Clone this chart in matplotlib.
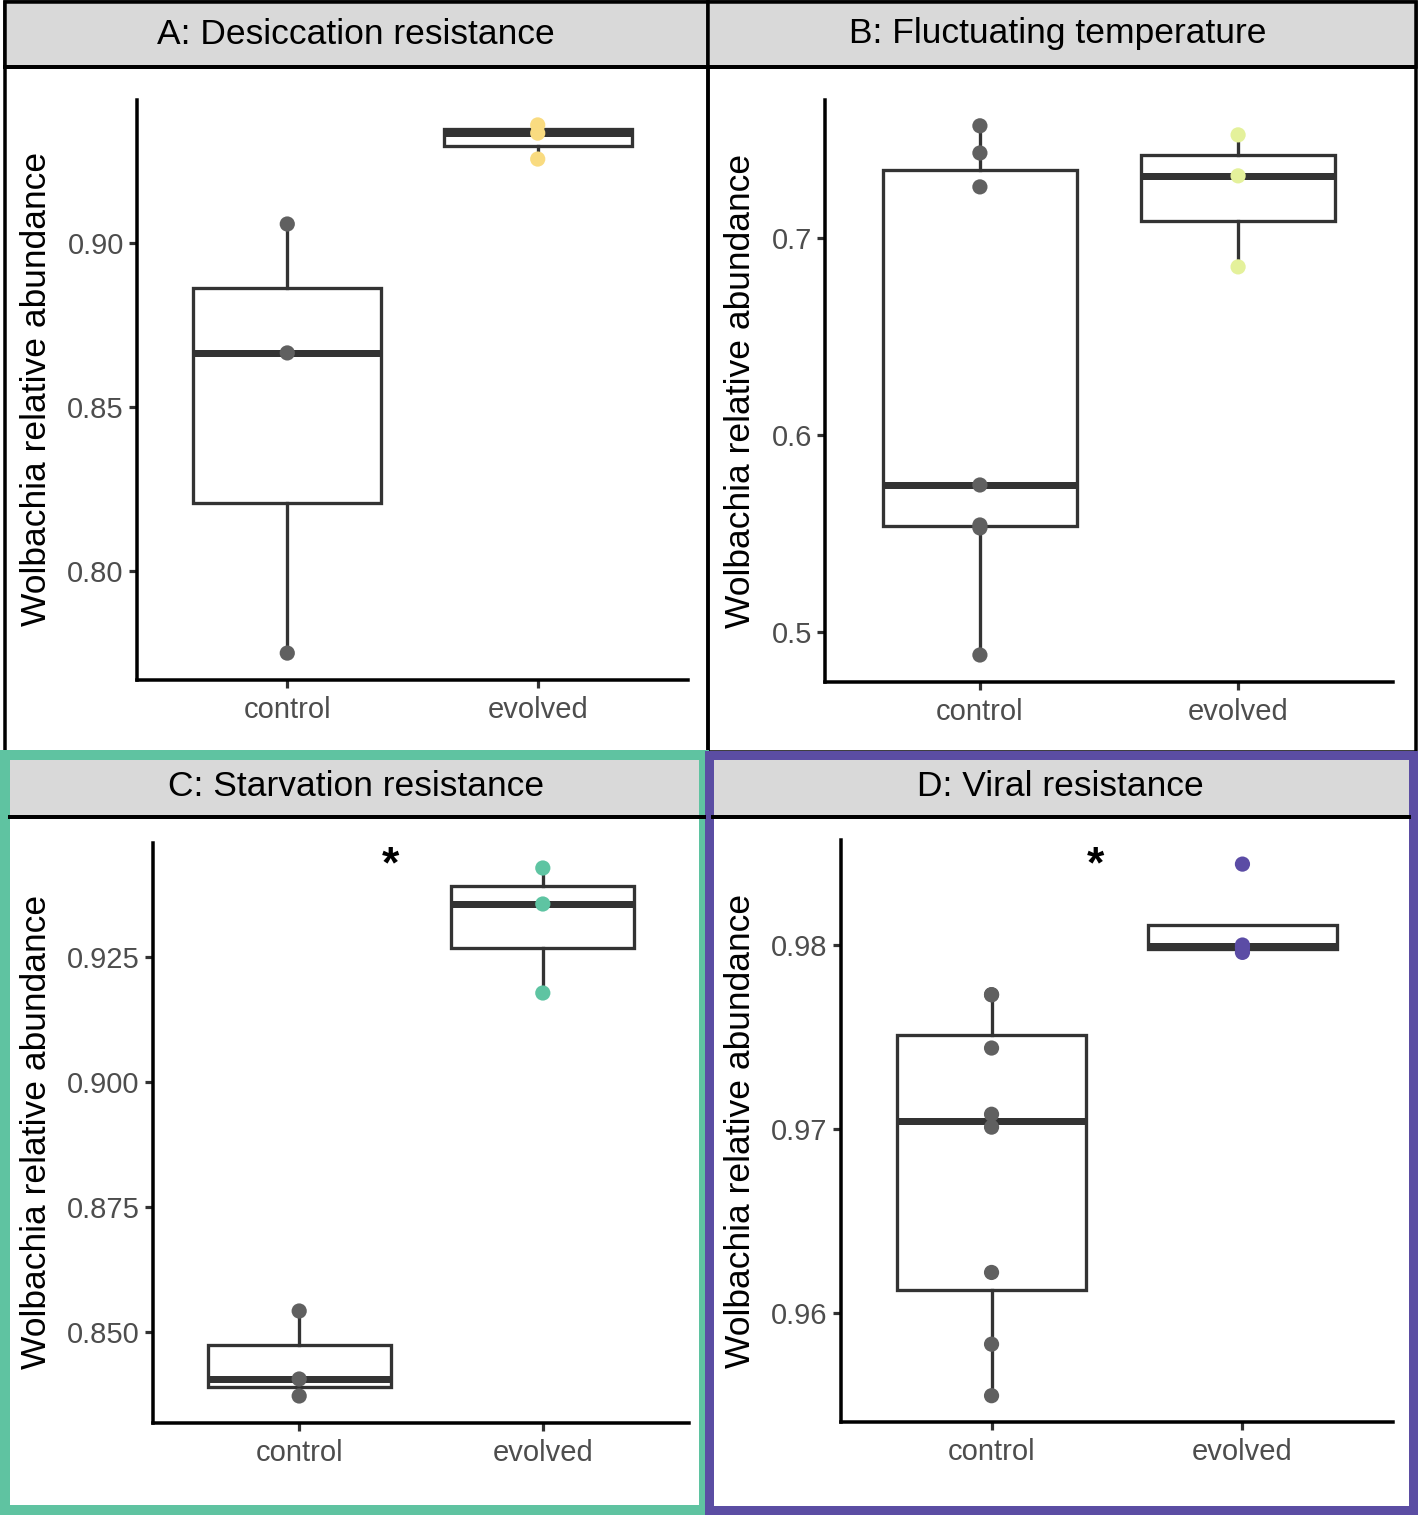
import matplotlib
matplotlib.use("Agg")
import matplotlib.pyplot as plt
from matplotlib.patches import Rectangle
from matplotlib.ticker import FormatStrFormatter

plt.rcParams['font.family'] = ['Liberation Sans', 'DejaVu Sans']

# ---------------- data ----------------
categories = ["control", "evolved"]

titles = ["A: Desiccation resistance", "B: Fluctuating temperature",
          "C: Starvation resistance", "D: Viral resistance"]

A_control = [0.9058, 0.8665, 0.7750]
A_evolved = [0.9360, 0.9335, 0.9256]

B_control = [0.7569, 0.7431, 0.7259, 0.5746, 0.5543, 0.5528, 0.4883]
B_evolved = [0.7523, 0.7315, 0.6853]

C_control = [0.8542, 0.8406, 0.8372]
C_evolved = [0.9428, 0.9356, 0.9178]

D_control = [0.9773, 0.9773, 0.9744, 0.9708, 0.9701, 0.9622, 0.9583, 0.9555]
D_evolved = [0.9844, 0.9800, 0.97985, 0.9796]

A_ticks = [0.80, 0.85, 0.90]
B_ticks = [0.5, 0.6, 0.7]
C_ticks = [0.850, 0.875, 0.900, 0.925]
D_ticks = [0.96, 0.97, 0.98]

ylabel = "Wolbachia relative abundance"
signif_label = "*"

# ---------------- style ----------------
W, H = 1418, 1515
control_color = "#606060"
evolved_colors = ["#F9DB80", "#E4F19B", "#5EC4A2", "#5B4CA5"]
border_C = "#5FC3A1"
border_D = "#5B4DA3"
strip_gray = "#D9D9D9"
box_col = "#333333"
PX = 0.72  # points per pixel

fig = plt.figure(figsize=(W / 100, H / 100), dpi=100)

bg = fig.add_axes([0, 0, 1, 1], zorder=0)
bg.set_xlim(0, W)
bg.set_ylim(H, 0)
bg.axis("off")

# panel frames A/B
bg.add_patch(Rectangle((5, 1.5), 703, 750, fc="none", ec="black", lw=3.5 * PX))
bg.add_patch(Rectangle((708, 1.5), 707.5, 750, fc="none", ec="black", lw=3.5 * PX))
# strips A/B
bg.add_patch(Rectangle((5, 1.5), 703, 65, fc=strip_gray, ec="black", lw=3.5 * PX))
bg.add_patch(Rectangle((708, 1.5), 707.5, 65, fc=strip_gray, ec="black", lw=3.5 * PX))
bg.plot([5, 1415], [66.5, 66.5], color="black", lw=4 * PX)
# strips C/D
bg.add_patch(Rectangle((10, 760), 694, 57, fc=strip_gray, ec="none"))
bg.add_patch(Rectangle((713, 760), 696, 57, fc=strip_gray, ec="none"))
bg.plot([10, 704], [817, 817], color="black", lw=4 * PX)
bg.plot([713, 1409], [817, 817], color="black", lw=4 * PX)
# coloured borders C/D
bg.add_patch(Rectangle((5, 755), 699, 755, fc="none", ec=border_C, lw=10 * PX))
bg.add_patch(Rectangle((708.5, 755), 704.5, 755, fc="none", ec=border_D, lw=9 * PX))

# titles
title_pos = [(356, 34), (1058, 34), (356, 786), (1060, 786)]
for t, (x, y) in zip(titles, title_pos):
    bg.text(x, y, t, ha="center", va="center", fontsize=25.5, color="black")

# y labels
ylab_pos = [(37, 389), (740, 391), (37, 1132), (740, 1131)]
for (x, y) in ylab_pos:
    bg.text(x, y, ylabel, ha="center", va="center", rotation=90,
            fontsize=25.5, color="black")

panels = [
    dict(rect=(137, 100, 688, 680), ylim=(0.7668, 0.9436), data=[A_control, A_evolved],
         ticks=A_ticks, fmt="%.2f", col=evolved_colors[0], star=None),
    dict(rect=(825, 100, 1393, 682), ylim=(0.4746, 0.7700), data=[B_control, B_evolved],
         ticks=B_ticks, fmt="%.1f", col=evolved_colors[1], star=None),
    dict(rect=(153, 843, 689, 1423), ylim=(0.8318, 0.9478), data=[C_control, C_evolved],
         ticks=C_ticks, fmt="%.3f", col=evolved_colors[2], star=(1.373, 0.9410)),
    dict(rect=(841, 840, 1393, 1422), ylim=(0.95407, 0.98571), data=[D_control, D_evolved],
         ticks=D_ticks, fmt="%.2f", col=evolved_colors[3], star=(1.414, 0.98370)),
]

for p in panels:
    l, t, r, b = p["rect"]
    ax = fig.add_axes([l / W, 1 - b / H, (r - l) / W, (b - t) / H], zorder=2)
    ax.set_facecolor("none")
    ax.set_xlim(0.4, 2.6)
    ax.set_ylim(*p["ylim"])
    ax.boxplot(p["data"], positions=[1, 2], widths=0.75, whis=1.5,
               showfliers=False, showcaps=False, patch_artist=True,
               boxprops=dict(facecolor="white", edgecolor=box_col, linewidth=3.3 * PX),
               whiskerprops=dict(color=box_col, linewidth=3.3 * PX),
               medianprops=dict(color=box_col, linewidth=7 * PX, solid_capstyle="butt"),
               zorder=2)
    for i, (vals, c) in enumerate(zip(p["data"], [control_color, p["col"]])):
        ax.scatter([i + 1] * len(vals), vals, s=120, color=c, edgecolor="none",
                   zorder=4, clip_on=False)
    ax.set_xticks([1, 2])
    ax.set_xticklabels(categories)
    ax.set_yticks(p["ticks"])
    ax.yaxis.set_major_formatter(FormatStrFormatter(p["fmt"]))
    for s in ["top", "right"]:
        ax.spines[s].set_visible(False)
    for s in ["left", "bottom"]:
        ax.spines[s].set_color("black")
        ax.spines[s].set_linewidth(3.5 * PX)
        ax.spines[s].set_capstyle("projecting")
    ax.tick_params(axis="both", length=5.5, width=2.3, color=box_col,
                   labelsize=21, labelcolor="#4D4D4D", pad=4)
    ax.tick_params(axis="x", pad=6)
    if p["star"] is not None:
        ax.text(p["star"][0], p["star"][1], signif_label, ha="center", va="baseline",
                fontsize=32, fontweight="bold", color="black")

fig.savefig("out.png", dpi=100)
